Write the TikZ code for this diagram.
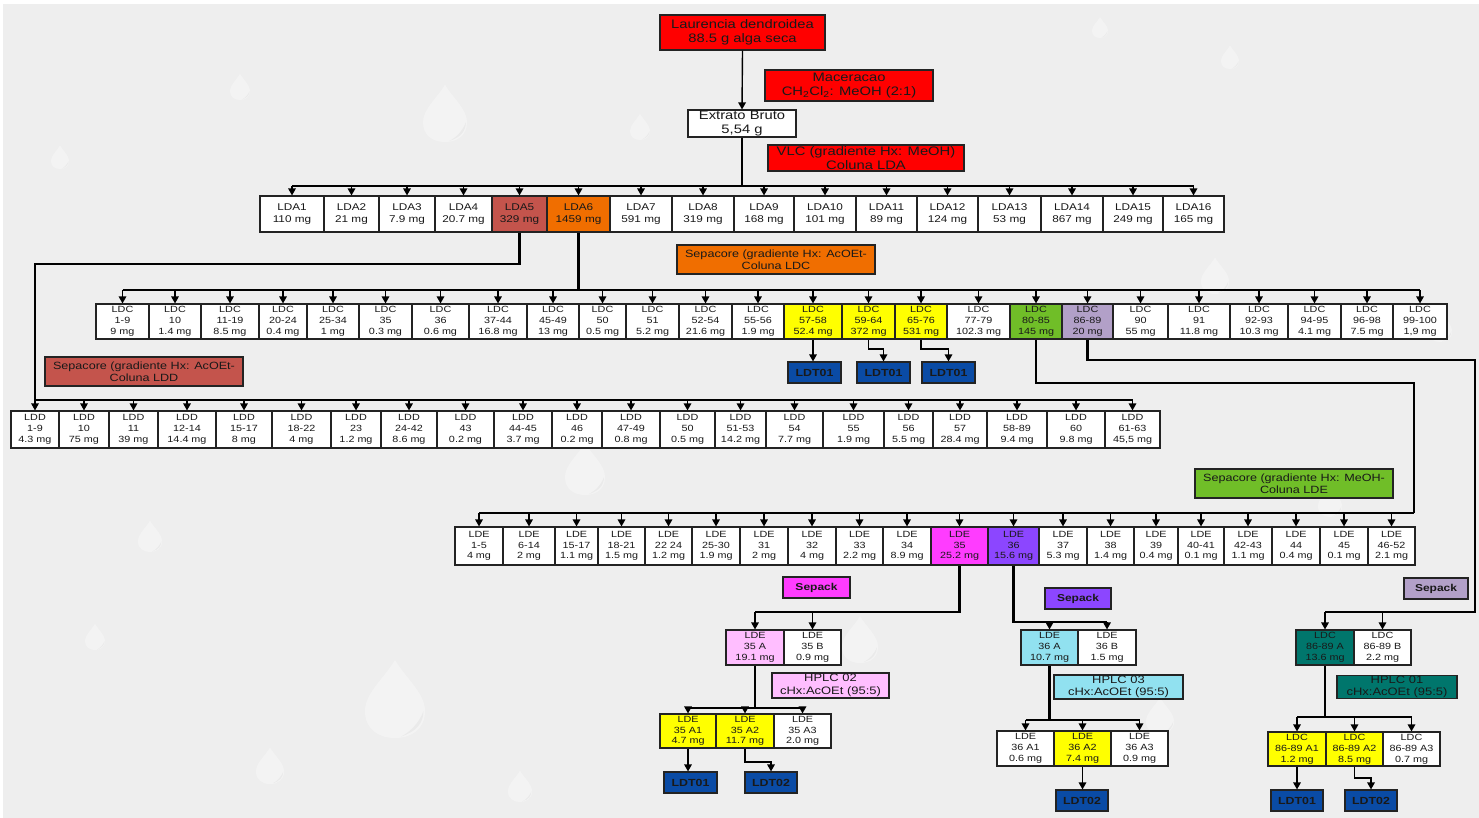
\documentclass[tikz,border=0pt]{standalone}
\usepackage{fontspec}
\setmainfont{Liberation Sans}[FakeStretch=1.2]
\usetikzlibrary{arrows.meta}

\definecolor{bg}{RGB}{238,238,238}
\definecolor{boxline}{RGB}{35,35,35}
\definecolor{txt}{RGB}{25,25,25}
\definecolor{cred}{RGB}{255,0,0}
\definecolor{brick}{RGB}{196,84,76}
\definecolor{orng}{RGB}{240,110,0}
\definecolor{ylw}{RGB}{255,255,0}
\definecolor{grn}{RGB}{112,190,40}
\definecolor{lav}{RGB}{178,160,200}
\definecolor{mag}{RGB}{255,60,255}
\definecolor{pnk}{RGB}{255,190,255}
\definecolor{vio}{RGB}{140,70,255}
\definecolor{cyn}{RGB}{145,225,240}
\definecolor{tealbox}{RGB}{0,118,108}
\definecolor{blu}{RGB}{10,75,165}

% box given by its corners: style, name, x1, y1, x2, y2, text
\newcommand\fbx[7]{\node[#1,minimum width={(#5-#3)*1pt},minimum height={(#6-#4)*1pt}] (#2) at ({(#3+#5)/2},{(#4+#6)/2}) {#7};}

\tikzset{
  base/.style={draw=boxline,line width=1.1pt,inner sep=0pt,align=center,text=txt},
  cell/.style={base,font=\fontsize{9}{10.8}\selectfont},
  lda/.style={base,font=\fontsize{9.8}{12.5}\selectfont},
  big/.style={base,font=\fontsize{12.3}{14.5}\selectfont},
  note/.style={base,font=\fontsize{10.5}{12.5}\selectfont},
  hplc/.style={base,font=\fontsize{10.8}{12.5}\selectfont},
  sepk/.style={base,font=\bfseries\fontsize{10}{12}\selectfont},
  ldt/.style={base,fill=blu,font=\bfseries\fontsize{10.3}{12}\selectfont},
  arr/.style={line width=1.4pt,draw=black,-{Triangle[length=7pt,width=7.5pt]}},
  bus/.style={line width=1.6pt,draw=black},
  trunk/.style={line width=2.3pt,draw=black},
  drop/.pic={
    \fill[white,opacity=.32] (0,-1.6) .. controls (0.35,-1.0) and (1,-0.5) .. (1,0.1)
      .. controls (1,0.7) and (0.55,1) .. (0,1) .. controls (-0.55,1) and (-1,0.7) .. (-1,0.1)
      .. controls (-1,-0.5) and (-0.35,-1.0) .. (0,-1.6) -- cycle;
    \fill[black,opacity=.035] (0.2,0.95) .. controls (0.7,0.8) and (0.95,0.5) .. (0.95,0.1)
      .. controls (0.8,0.5) and (0.5,0.8) .. (0.2,0.95) -- cycle;
  },
}

\begin{document}
\begin{tikzpicture}[x=1pt,y=-1pt]
\useasboundingbox (0,0) rectangle (1479,818);
\fill[white] (0,0) rectangle (1479,818);
\fill[bg] (3,4) rectangle (1479,818);

% faint water drops in the background
\foreach \px/\py/\r in {445/120/22, 240/90/10, 395/708/30, 150/540/12, 95/640/10,
  270/770/14, 520/790/12, 585/475/20, 860/645/18, 1160/720/14, 1215/280/14,
  1330/505/12, 1440/330/12, 1100/30/8, 1230/60/9, 60/160/9, 640/130/10}
  {\pic[scale=\r] at (\px,\py) {drop};}

% ---- source and extraction ----
\fbx{big,fill=cred}{src}{660}{15}{825}{50}{Laurencia dendroidea\\88.5 g alga seca}
\fbx{big,fill=cred}{mac}{765}{70}{933}{101}{Maceracao\\CH\textsubscript{2}Cl\textsubscript{2}: MeOH (2:1)}
\fbx{big,fill=white}{ext}{688}{110}{796}{137}{Extrato Bruto\\5,54 g}
\fbx{big,fill=cred}{vlc}{768}{145}{964}{171}{VLC (gradiente Hx: MeOH)\\Coluna LDA}

% ---- LDA fractions ----
\foreach \xa/\xb/\lbl/\col [count=\i] in {
  260/324/{LDA1\\110 mg}/white, 324/379/{LDA2\\21 mg}/white,
  379/435/{LDA3\\7.9 mg}/white, 435/492/{LDA4\\20.7 mg}/white,
  492/547/{LDA5\\329 mg}/brick, 547/610/{LDA6\\1459 mg}/orng,
  610/672/{LDA7\\591 mg}/white, 672/734/{LDA8\\319 mg}/white,
  734/794/{LDA9\\168 mg}/white, 794/856/{LDA10\\101 mg}/white,
  856/917/{LDA11\\89 mg}/white, 917/978/{LDA12\\124 mg}/white,
  978/1041/{LDA13\\53 mg}/white, 1041/1103/{LDA14\\867 mg}/white,
  1103/1163/{LDA15\\249 mg}/white, 1163/1224/{LDA16\\165 mg}/white}
  {\fbx{lda,fill=\col}{lda\i}{\xa}{196}{\xb}{232}{\lbl}}

% ---- column notes ----
\fbx{note,fill=orng}{sepC}{677}{245}{875}{274}{Sepacore (gradiente Hx: AcOEt-\\Coluna LDC}
\fbx{note,fill=brick}{sepD}{45}{357}{243}{386}{Sepacore (gradiente Hx: AcOEt-\\Coluna LDD}
\fbx{note,fill=grn}{sepE}{1195}{469}{1393}{498}{Sepacore (gradiente Hx: MeOH-\\Coluna LDE}

% ---- LDC fractions ----
\foreach \xa/\xb/\lbl/\col [count=\i] in {
  96/149/{1-9\\9 mg}/white, 149/201/{10\\1.4 mg}/white,
  201/259/{11-19\\8.5 mg}/white, 259/307/{20-24\\0.4 mg}/white,
  307/359/{25-34\\1 mg}/white, 359/412/{35\\0.3 mg}/white,
  412/469/{36\\0.6 mg}/white, 469/527/{37-44\\16.8 mg}/white,
  527/579/{45-49\\13 mg}/white, 579/626/{50\\0.5 mg}/white,
  626/679/{51\\5.2 mg}/white, 679/732/{52-54\\21.6 mg}/white,
  732/784/{55-56\\1.9 mg}/white, 784/842/{57-58\\52.4 mg}/ylw,
  842/895/{59-64\\372 mg}/ylw, 895/947/{65-76\\531 mg}/ylw,
  947/1010/{77-79\\102.3 mg}/white, 1010/1062/{80-85\\145 mg}/grn,
  1062/1113/{86-89\\20 mg}/lav, 1113/1168/{90\\55 mg}/white,
  1168/1230/{91\\11.8 mg}/white, 1230/1288/{92-93\\10.3 mg}/white,
  1288/1341/{94-95\\4.1 mg}/white, 1341/1393/{96-98\\7.5 mg}/white,
  1393/1447/{99-100\\1,9 mg}/white}
  {\fbx{cell,fill=\col}{ldc\i}{\xa}{304}{\xb}{339}{LDC\\\lbl}}

% ---- LDD fractions ----
\foreach \xa/\xb/\lbl [count=\i] in {
  11/59/{1-9\\4.3 mg}, 59/109/{10\\75 mg}, 109/158/{11\\39 mg},
  158/216/{12-14\\14.4 mg}, 216/272/{15-17\\8 mg}, 272/331/{18-22\\4 mg},
  331/381/{23\\1.2 mg}, 381/437/{24-42\\8.6 mg}, 437/494/{43\\0.2 mg},
  494/552/{44-45\\3.7 mg}, 552/602/{46\\0.2 mg}, 602/660/{47-49\\0.8 mg},
  660/715/{50\\0.5 mg}, 715/766/{51-53\\14.2 mg}, 766/823/{54\\7.7 mg},
  823/884/{55\\1.9 mg}, 884/933/{56\\5.5 mg}, 933/987/{57\\28.4 mg},
  987/1047/{58-89\\9.4 mg}, 1047/1105/{60\\9.8 mg}, 1105/1160/{61-63\\45,5 mg}}
  {\fbx{cell,fill=white}{ldd\i}{\xa}{411}{\xb}{448}{LDD\\\lbl}}

% ---- LDE fractions ----
\foreach \xa/\xb/\lbl/\col [count=\i] in {
  455/503/{1-5\\4 mg}/white, 503/555/{6-14\\2 mg}/white,
  555/598/{15-17\\1.1 mg}/white, 598/645/{18-21\\1.5 mg}/white,
  645/692/{22 24\\1.2 mg}/white, 692/740/{25-30\\1.9 mg}/white,
  740/788/{31\\2 mg}/white, 788/836/{32\\4 mg}/white,
  836/883/{33\\2.2 mg}/white, 883/931/{34\\8.9 mg}/white,
  931/988/{35\\25.2 mg}/mag, 988/1039/{36\\15.6 mg}/vio,
  1039/1087/{37\\5.3 mg}/white, 1087/1134/{38\\1.4 mg}/white,
  1134/1178/{39\\0.4 mg}/white, 1178/1224/{40-41\\0.1 mg}/white,
  1224/1272/{42-43\\1.1 mg}/white, 1272/1320/{44\\0.4 mg}/white,
  1320/1368/{45\\0.1 mg}/white, 1368/1415/{46-52\\2.1 mg}/white}
  {\fbx{cell,fill=\col}{lde\i}{\xa}{527}{\xb}{565}{LDE\\\lbl}}

% ---- TLC spots from LDC ----
\fbx{ldt}{tc1}{788}{362}{841}{383}{LDT01}
\fbx{ldt}{tc2}{857}{362}{910}{383}{LDT01}
\fbx{ldt}{tc3}{922}{362}{975}{383}{LDT01}

% ---- LDE 35 branch ----
\fbx{sepk,fill=mag}{spk35}{783}{577}{850}{598}{Sepack}
\fbx{cell,fill=pnk}{e35a}{726}{630}{784}{665}{LDE\\35 A\\19.1 mg}
\fbx{cell,fill=white}{e35b}{784}{630}{841}{665}{LDE\\35 B\\0.9 mg}
\fbx{hplc,fill=pnk}{hp2}{772}{673}{889}{698}{HPLC 02\\cHx:AcOEt (95:5)}
\fbx{cell,fill=ylw}{e35a1}{660}{714}{716}{748}{LDE\\35 A1\\4.7 mg}
\fbx{cell,fill=ylw}{e35a2}{716}{714}{774}{748}{LDE\\35 A2\\11.7 mg}
\fbx{cell,fill=white}{e35a3}{774}{714}{831}{748}{LDE\\35 A3\\2.0 mg}
\fbx{ldt}{t35a}{664}{772}{717}{793}{LDT01}
\fbx{ldt}{t35b}{745}{772}{797}{793}{LDT02}

% ---- LDE 36 branch ----
\fbx{sepk,fill=vio}{spk36}{1045}{588}{1111}{609}{Sepack}
\fbx{cell,fill=cyn}{e36a}{1021}{630}{1078}{665}{LDE\\36 A\\10.7 mg}
\fbx{cell,fill=white}{e36b}{1078}{630}{1136}{665}{LDE\\36 B\\1.5 mg}
\fbx{hplc,fill=cyn}{hp3}{1054}{675}{1183}{699}{HPLC 03\\cHx:AcOEt (95:5)}
\fbx{cell,fill=white}{e36a1}{997}{731}{1054}{766}{LDE\\36 A1\\0.6 mg}
\fbx{cell,fill=ylw}{e36a2}{1054}{731}{1111}{766}{LDE\\36 A2\\7.4 mg}
\fbx{cell,fill=white}{e36a3}{1111}{731}{1168}{766}{LDE\\36 A3\\0.9 mg}
\fbx{ldt}{t36}{1056}{790}{1108}{811}{LDT02}

% ---- LDC 86-89 branch ----
\fbx{sepk,fill=lav}{spk89}{1404}{578}{1468}{599}{Sepack}
\fbx{cell,fill=tealbox}{c89a}{1296}{630}{1354}{665}{LDC\\86-89 A\\13.6 mg}
\fbx{cell,fill=white}{c89b}{1354}{630}{1411}{665}{LDC\\86-89 B\\2.2 mg}
\fbx{hplc,fill=tealbox}{hp1}{1337}{676}{1457}{698}{HPLC 01\\cHx:AcOEt (95:5)}
\fbx{cell,fill=ylw}{c89a1}{1268}{732}{1326}{766}{LDC\\86-89 A1\\1.2 mg}
\fbx{cell,fill=ylw}{c89a2}{1326}{732}{1383}{766}{LDC\\86-89 A2\\8.5 mg}
\fbx{cell,fill=white}{c89a3}{1383}{732}{1440}{766}{LDC\\86-89 A3\\0.7 mg}
\fbx{ldt}{t89a}{1271}{790}{1323}{811}{LDT01}
\fbx{ldt}{t89b}{1345}{790}{1397}{811}{LDT02}

% ---- level coordinates for the buses ----
\coordinate (ldabus) at (0,186);
\coordinate (ldcbus) at (0,290);
\coordinate (lddbus) at (0,400);
\coordinate (ldebus) at (0,513);
\coordinate (jd) at (0,264);
\coordinate (je) at (1414,383);
\coordinate (jr) at (1475,360);
\coordinate (kc) at (0,349);
\coordinate (h35) at (0,612);
\coordinate (h36) at (0,622);
\coordinate (h89) at (0,612);
\coordinate (s35) at (0,708);
\coordinate (s36) at (0,720);
\coordinate (s89) at (0,717);
\coordinate (k35) at (0,762);
\coordinate (k89) at (0,778);

% ---- connectors ----
\draw[arr] (src.south) -- (ext.north);
\draw[trunk] (ext.south) -- (ext.south |- ldabus);
\draw[bus] (lda1.north |- ldabus) -- (lda16.north |- ldabus);
\foreach \i in {1,...,16} {\draw[arr] (lda\i.north |- ldabus) -- (lda\i.north);}

\draw[trunk] (lda6.south) -- (lda6.south |- ldcbus);
\draw[bus] (ldc1.north |- ldcbus) -- (ldc25.north |- ldcbus);
\foreach \i in {1,...,25} {\draw[arr] (ldc\i.north |- ldcbus) -- (ldc\i.north);}

\draw[trunk] (lda5.south) -- (lda5.south |- jd) -- (ldd1.north |- jd) -- (ldd1.north |- lddbus);
\draw[bus] (ldd1.north |- lddbus) -- (ldd21.north |- lddbus);
\foreach \i in {1,...,21} {\draw[arr] (ldd\i.north |- lddbus) -- (ldd\i.north);}

\draw[trunk] (ldc18.south) -- (ldc18.south |- je) -- (je) -- (je |- ldebus);
\draw[bus] (je |- ldebus) -- (lde1.north |- ldebus);
\foreach \i in {1,...,20} {\draw[arr] (lde\i.north |- ldebus) -- (lde\i.north);}

\draw[arr] (ldc14.south) -- (ldc14.south |- tc1.north);
\draw[arr] (ldc15.south) -- (ldc15.south |- kc) -- (tc2.north |- kc) -- (tc2.north);
\draw[arr] (ldc16.south) -- (ldc16.south |- kc) -- (tc3.north |- kc) -- (tc3.north);

% LDE 35
\draw[trunk] (lde11.south) -- (lde11.south |- h35) -- (e35a.north |- h35);
\draw[arr] (e35a.north |- h35) -- (e35a.north);
\draw[arr] (e35b.north |- h35) -- (e35b.north);
\draw[trunk] (e35a.south) -- (e35a.south |- s35);
\draw[bus] (e35a1.north |- s35) -- (e35a3.north |- s35);
\foreach \n in {e35a1,e35a2,e35a3} {\draw[arr] (\n.north |- s35) -- (\n.north);}
\draw[arr] (e35a1.south) -- (e35a1.south |- t35a.north);
\draw[arr] (e35a2.south) -- (e35a2.south |- k35) -- (t35b.north |- k35) -- (t35b.north);

% LDE 36
\draw[trunk] (lde12.south) -- (lde12.south |- h36) -- (e36b.north |- h36);
\draw[arr] (e36a.north |- h36) -- (e36a.north);
\draw[arr] (e36b.north |- h36) -- (e36b.north);
\draw[trunk] (e36a.south) -- (e36a.south |- s36);
\draw[bus] (e36a1.north |- s36) -- (e36a3.north |- s36);
\foreach \n in {e36a1,e36a2,e36a3} {\draw[arr] (\n.north |- s36) -- (\n.north);}
\draw[arr] (e36a2.south) -- (e36a2.south |- t36.north);

% LDC 86-89
\draw[trunk] (ldc19.south) -- (ldc19.south |- jr) -- (jr) -- (jr |- h89) -- (c89a.north |- h89);
\draw[arr] (c89a.north |- h89) -- (c89a.north);
\draw[arr] (c89b.north |- h89) -- (c89b.north);
\draw[trunk] (c89a.south) -- (c89a.south |- s89);
\draw[bus] (c89a1.north |- s89) -- (c89a3.north |- s89);
\foreach \n in {c89a1,c89a2,c89a3} {\draw[arr] (\n.north |- s89) -- (\n.north);}
\draw[arr] (c89a1.south) -- (c89a1.south |- t89a.north);
\draw[arr] (c89a2.south) -- (c89a2.south |- k89) -- (t89b.north |- k89) -- (t89b.north);
\end{tikzpicture}
\end{document}
